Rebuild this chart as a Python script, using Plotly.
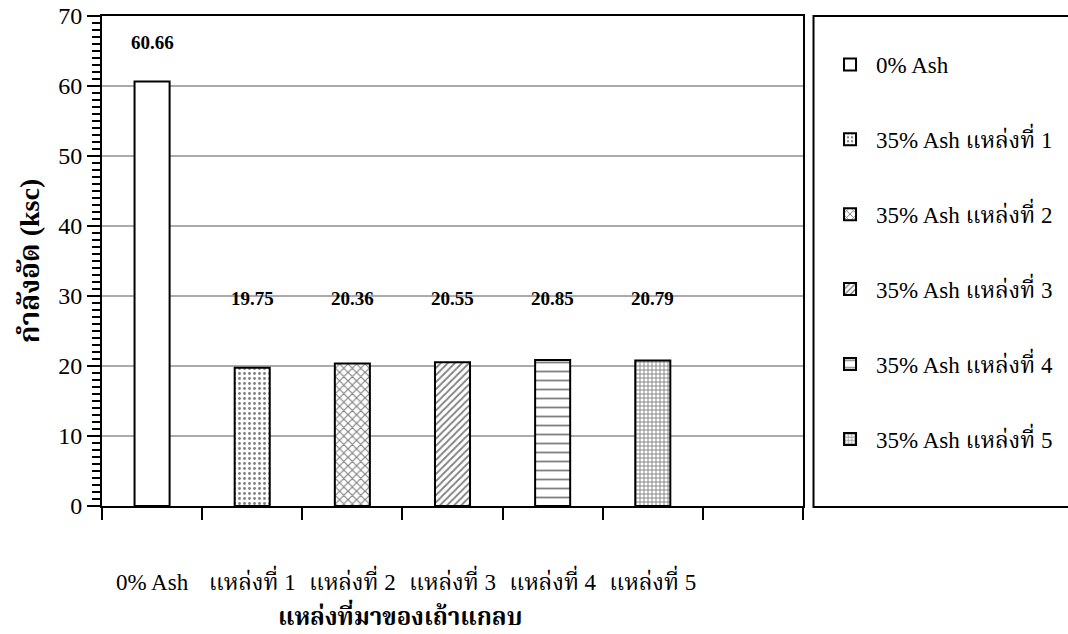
import plotly.graph_objects as go

categories = ["0% Ash", "แหล่งที่ 1", "แหล่งที่ 2", "แหล่งที่ 3", "แหล่งที่ 4", "แหล่งที่ 5"]
series_names = ["0% Ash", "35% Ash แหล่งที่ 1", "35% Ash แหล่งที่ 2",
                "35% Ash แหล่งที่ 3", "35% Ash แหล่งที่ 4", "35% Ash แหล่งที่ 5"]
values = [60.66, 19.75, 20.36, 20.55, 20.85, 20.79]
value_labels = ["60.66", "19.75", "20.36", "20.55", "20.85", "20.79"]
y_ticks = [0, 10, 20, 30, 40, 50, 60, 70]
x_title = "แหล่งที่มาของเถ้าแกลบ"
y_title = "กำลังอัด (ksc)"

FONT = "Liberation Serif, Times New Roman, Noto Serif Thai, Noto Sans Thai, serif"

patterns = [
    dict(shape=""),
    dict(shape=".", size=5, solidity=0.25, fgcolor="black", bgcolor="white", fillmode="overlay"),
    dict(shape="x", size=6, solidity=0.35, fgcolor="black", bgcolor="white", fillmode="overlay"),
    dict(shape="/", size=5, solidity=0.35, fgcolor="black", bgcolor="white", fillmode="overlay"),
    dict(shape="-", size=9, solidity=0.2, fgcolor="black", bgcolor="white", fillmode="overlay"),
    dict(shape="+", size=4, solidity=0.4, fgcolor="black", bgcolor="white", fillmode="overlay"),
]

fig = go.Figure()
for i, (cat, val, name) in enumerate(zip(categories, values, series_names)):
    fig.add_trace(go.Bar(
        x=[cat], y=[val], name=name, width=0.35,
        marker=dict(color="white", line=dict(color="black", width=2), pattern=patterns[i]),
        legendgroup=f"g{i}", showlegend=True,
    ))

for cat, val, lab in zip(categories, values, value_labels):
    fig.add_annotation(x=cat, y=max(val + 5.5, 29.6), text=f"<b>{lab}</b>", showarrow=False,
                       font=dict(family=FONT, size=19, color="black"))

# x-axis title (centred slightly left of the plot centre, as in the reference)
fig.add_annotation(xref="paper", yref="paper", x=0.425, y=-0.222, xanchor="center", yanchor="middle",
                   text=f"<b>{x_title}</b>", showarrow=False,
                   font=dict(family=FONT, size=24, color="black"))

# legend border box
fig.add_shape(type="rect", xref="paper", yref="paper", x0=1.015, x1=1.40, y0=-0.002, y1=1.0,
              line=dict(color="black", width=2), fillcolor="rgba(0,0,0,0)", layer="above")

fig.update_layout(
    width=1068, height=634,
    margin=dict(l=102, r=265, t=16, b=128, autoexpand=False),
    paper_bgcolor="white", plot_bgcolor="white",
    barmode="overlay",
    font=dict(family=FONT, size=22, color="black"),
    legend=dict(x=1.03, y=0.945, xanchor="left", yanchor="top",
                tracegroupgap=42, font=dict(size=23, family=FONT), itemwidth=42,
                bgcolor="rgba(0,0,0,0)", borderwidth=0, traceorder="grouped"),
    xaxis=dict(
        type="category", categoryarray=categories + [" "], range=[-0.5, 6.5],
        tickson="boundaries", ticks="outside", ticklen=12, tickwidth=2, tickcolor="black",
        showline=True, linecolor="black", linewidth=2, mirror=True,
        showgrid=False, ticklabelstandoff=54, automargin=False,
        tickfont=dict(size=23, family=FONT),
    ),
    yaxis=dict(
        range=[0, 70], tickvals=y_ticks, ticks="outside", ticklen=13, tickwidth=2, tickcolor="black",
        showline=True, linecolor="black", linewidth=2, mirror=True,
        showgrid=True, gridcolor="#ababab", gridwidth=1.5, automargin=False,
        tickfont=dict(size=24, family=FONT),
        minor=dict(dtick=1, ticks="outside", ticklen=8, tickwidth=1.5, tickcolor="black", showgrid=False),
        title=dict(text=f"<b>{y_title}</b>", standoff=10, font=dict(size=28, family=FONT)),
        zeroline=False,
    ),
)

fig.write_html("out.html")
